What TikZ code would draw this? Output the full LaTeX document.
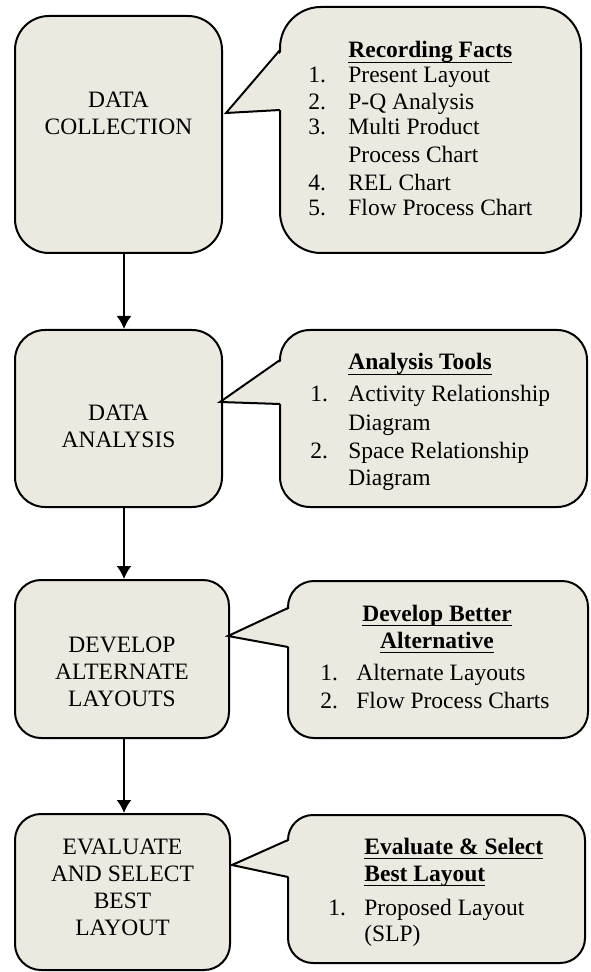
\documentclass[tikz,border=0pt]{standalone}
\usepackage{fontspec}
\setmainfont{Liberation Serif}
\usetikzlibrary{arrows.meta}
\definecolor{paper}{RGB}{236,234,224}
\newsavebox{\hdbox}
% bold heading with a heavy rule under it
\newcommand{\hd}[1]{\sbox\hdbox{\textbf{#1}}\rlap{\vrule width\wd\hdbox height -1.8pt depth 2.7pt}\usebox\hdbox}
\newcommand{\wfont}{\fontsize{11.75}{13.5}\selectfont}

\begin{document}
\begin{tikzpicture}[x=0.5pt,y=-0.5pt,
    stage/.style={draw,line width=1pt,fill=paper,rectangle,inner sep=0pt},
    wedge/.style={draw,line width=1pt,line join=miter},
    caps/.style={align=center,inner sep=0pt,font=\wfont},
    txt/.style={anchor=base west,inner sep=0pt,font=\wfont},
    link/.style={line width=1pt,-{Latex[length=6.5pt,width=7.5pt]}}]
            \path[use as bounding box] (0,0) rectangle (590,972);

            % the four steps
            \node[stage,rounded corners=17pt,minimum width=103.5pt,minimum height=118.5pt] (collect) at (118.5,134.5) {};
            \node[stage,rounded corners=15pt,minimum width=103.5pt,minimum height=88.5pt] (analyse) at (118.5,418.5) {};
            \node[stage,rounded corners=13pt,minimum width=107pt,minimum height=79pt] (develop) at (122,659) {};
            \node[stage,rounded corners=13pt,minimum width=107.5pt,minimum height=78pt] (evaluate) at (122.5,892) {};

            \node[caps] (tcollect) at (118.5,113.5) {DATA\\COLLECTION};
            \node[caps] (tanalyse) at (118.5,426.5) {DATA\\ANALYSIS};
            \node[caps] (tdevelop) at (122,672) {DEVELOP\\ALTERNATE\\LAYOUTS};
            \node[caps] (tevaluate) at (122.5,887.5) {EVALUATE\\AND SELECT\\BEST\\LAYOUT};

            \draw[link] (collect.south -| 124,0) -- (analyse.north -| 124,0);
            \draw[link] (analyse.south -| 124,0) -- (develop.north -| 124,0);
            \draw[link] (develop.south -| 124,0) -- (evaluate.north -| 124,0);

            % callouts: rounded box, then the wedge laid over its left side
            \node[stage,rounded corners=20.5pt,minimum width=150.5pt,minimum height=123pt] (facts) at (430.5,130) {};
            \node[stage,rounded corners=15pt,minimum width=153.5pt,minimum height=88.5pt] (tools) at (433.5,418.5) {};
            \node[stage,rounded corners=13pt,minimum width=150pt,minimum height=78.5pt] (better) at (438,659.5) {};
            \node[stage,rounded corners=12.5pt,minimum width=148.5pt,minimum height=74pt] (select) at (436.5,889) {};

            \coordinate (tip1) at (226,113);
            \coordinate (tip2) at (220,402);
            \coordinate (tip3) at (228,636);
            \coordinate (tip4) at (232,865);

            \fill[paper] (283,50) -- (tip1) -- (283,110) -- cycle;
            \draw[wedge] (280,50) -- (tip1) -- (280,110);
            \fill[paper] (283,360) -- (tip2) -- (283,404) -- cycle;
            \draw[wedge] (280,360) -- (tip2) -- (280,404);
            \fill[paper] (291,608) -- (tip3) -- (291,647) -- cycle;
            \draw[wedge] (288,608) -- (tip3) -- (288,647);
            \fill[paper] (291,840) -- (tip4) -- (291,877) -- cycle;
            \draw[wedge] (288,840) -- (tip4) -- (288,877);

            \node[txt] (hfacts) at (348,58) {\hd{Recording Facts}};
            \foreach \ii/\yy/\tx in {1./83/Present Layout,2./110/P-Q Analysis,3./135/Multi Product,
                {}/163/Process Chart,4./191/REL Chart,5./216/Flow Process Chart} {
                \node[txt] (na\yy) at (308,\yy) {\ii};
                \node[txt] (la\yy) at (348,\yy) {\tx};
            }

            \node[txt] (htools) at (348,370) {\hd{Analysis Tools}};
            \foreach \ii/\yy/\tx in {1./401/Activity Relationship,{}/430/Diagram,
                2./458/Space Relationship,{}/485/Diagram} {
                \node[txt] (nb\yy) at (310,\yy) {\ii};
                \node[txt] (lb\yy) at (348,\yy) {\tx};
            }

            \node[txt,anchor=base] (hbetter) at (437,621) {\hd{Develop Better}};
            \node[txt,anchor=base] (halt) at (437,648) {\hd{Alternative}};
            \foreach \ii/\yy/\tx in {1./680/Alternate Layouts,2./708/Flow Process Charts} {
                \node[txt] (nc\yy) at (320,\yy) {\ii};
                \node[txt] (lc\yy) at (356,\yy) {\tx};
            }

            \node[txt] (hselect) at (364,854) {\hd{Evaluate \& Select}};
            \node[txt] (hbest) at (364,881) {\hd{Best Layout}};
            \foreach \ii/\yy/\tx in {1./915/Proposed Layout,{}/941/(SLP)} {
                \node[txt] (nd\yy) at (328,\yy) {\ii};
                \node[txt] (ld\yy) at (364,\yy) {\tx};
            }
\end{tikzpicture}
\end{document}
